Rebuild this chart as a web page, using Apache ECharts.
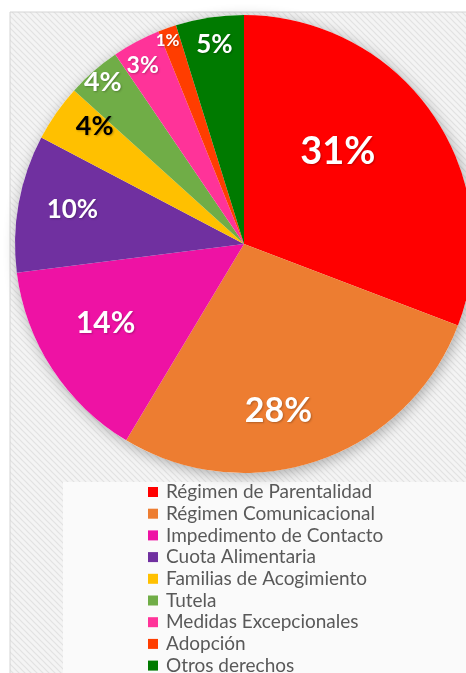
<!DOCTYPE html>
<html>
<head>
<meta charset="utf-8">
<script src="https://cdn.jsdelivr.net/npm/echarts@6/dist/echarts.min.js"></script>
<style>
html,body{margin:0;padding:0;background:#ffffff;}
#chart{width:466px;height:673px;}
</style>
</head>
<body>
<div id="chart"></div>
<script>
// ---- data ----
const categories = [
  'Régimen de Parentalidad',
  'Régimen Comunicacional',
  'Impedimento de Contacto',
  'Cuota Alimentaria',
  'Familias de Acogimiento',
  'Tutela',
  'Medidas Excepcionales',
  'Adopción',
  'Otros derechos'
];
const values = [30.8, 27.8, 14.4, 9.7, 4.0, 3.8, 3.4, 1.3, 4.8];

// ---- styles (kept separate from data) ----
const colors = ['#FF0000', '#ED7D31', '#EE12A4', '#7030A0', '#FFC000', '#70AD47', '#FF3399', '#FF3D00', '#007A00'];
const labelSizes = [38, 34, 30, 26, 27, 27, 23, 17, 26];
const labelColors = ['#fff', '#fff', '#fff', '#fff', '#000', '#fff', '#fff', '#fff', '#fff'];
const labelOffsets = [[-3, -26], [-4, 56], [-40, 15], [-56, -13], [-53, -50], [-64, -73], [-46, -75], [-37, -93], [-12, -83]];

// hatched background pattern
const pc = document.createElement('canvas');
pc.width = 6; pc.height = 6;
const pctx = pc.getContext('2d');
pctx.fillStyle = '#f4f4f4';
pctx.fillRect(0, 0, 6, 6);
pctx.strokeStyle = '#e2e2e2';
pctx.lineWidth = 1.2;
pctx.beginPath();
pctx.moveTo(-1, -1); pctx.lineTo(7, 7);
pctx.moveTo(-4, 2); pctx.lineTo(4, 10);
pctx.moveTo(2, -4); pctx.lineTo(10, 4);
pctx.stroke();

const chart = echarts.init(document.getElementById('chart'), null, {renderer: 'canvas'});

const pieData = categories.map((name, i) => ({
  name: name,
  value: values[i],
  itemStyle: {color: colors[i]},
  label: {
    fontSize: labelSizes[i],
    color: labelColors[i],
    offset: labelOffsets[i]
  }
}));

const total = values.reduce((a, b) => a + b, 0);

chart.setOption({
  backgroundColor: '#ffffff',
  animation: false,
  graphic: [
    {
      type: 'rect', z: -10,
      shape: {x: 10, y: 12, width: 470, height: 680},
      style: {fill: {image: pc, repeat: 'repeat'}, stroke: '#d4d4d4', lineWidth: 1}
    },
    {
      type: 'rect', z: -9,
      shape: {x: 63, y: 482, width: 420, height: 200},
      style: {fill: '#fafafa'}
    }
  ],
  legend: {
    orient: 'vertical',
    left: 148,
    top: 482,
    height: 320,
    padding: 0,
    itemWidth: 10,
    itemHeight: 10,
    itemGap: 1.7,
    icon: 'rect',
    selectedMode: false,
    data: categories,
    textStyle: {
      fontFamily: 'Lato',
      fontSize: 19,
      color: '#595959',
      lineHeight: 20,
      padding: [0, 0, 0, 3]
    }
  },
  series: [
    {
      type: 'pie',
      silent: true,
      z: 1,
      center: [244, 244],
      radius: 229,
      data: [{value: total, name: '__shadow'}],
      itemStyle: {color: '#ffffff', shadowBlur: 14, shadowColor: 'rgba(0,0,0,0.3)', shadowOffsetX: 2, shadowOffsetY: 3},
      label: {show: false},
      labelLine: {show: false},
      legendHoverLink: false
    },
    {
      type: 'pie',
      z: 2,
      center: [244, 244],
      radius: 229,
      startAngle: 90,
      clockwise: true,
      percentPrecision: 0,
      data: pieData,
      label: {
        show: true,
        position: 'inside',
        formatter: '{d}%',
        fontFamily: 'Lato',
        fontWeight: 'bold',
        textShadowColor: 'rgba(0,0,0,0.25)',
        textShadowBlur: 2,
        textShadowOffsetX: 1,
        textShadowOffsetY: 1
      },
      labelLine: {show: false},
      itemStyle: {borderWidth: 0}
    }
  ]
});
</script>
</body>
</html>
